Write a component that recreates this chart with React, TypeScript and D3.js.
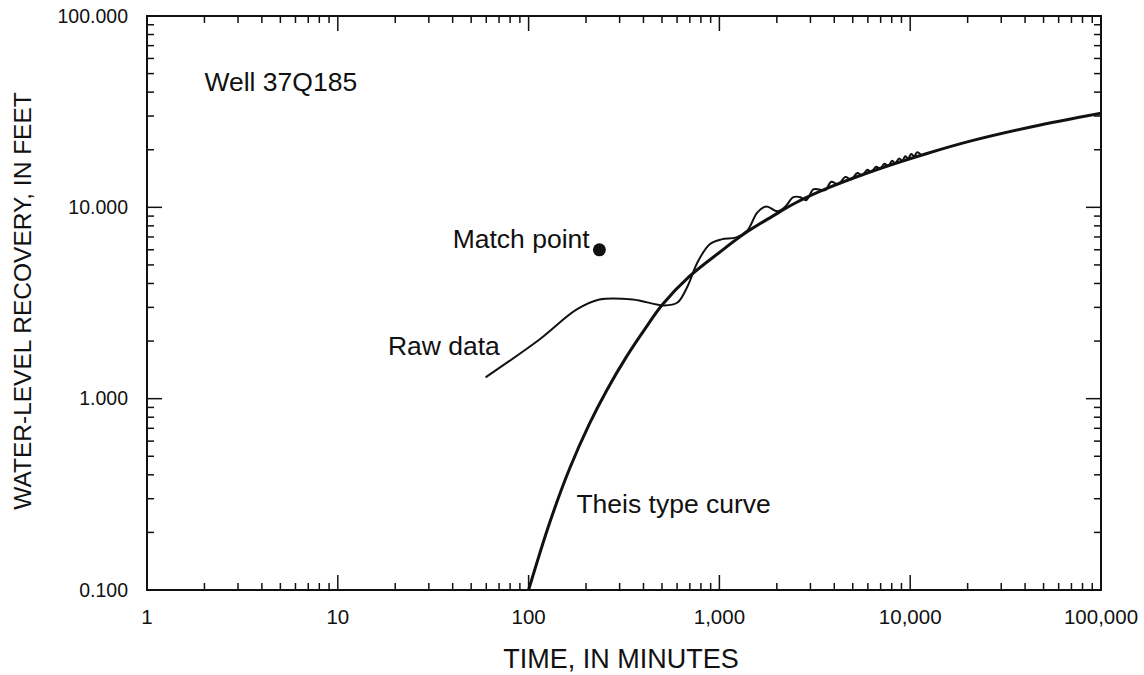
import React from "react";
import * as d3 from "d3";

const theisTime = [100, 128.8, 163.9, 208.6, 256.1, 326, 405, 503, 696, 1000, 1384, 1893, 2530, 3766, 6885, 12130, 20370, 43530, 100000];
const theisRecovery = [0.1, 0.224, 0.43, 0.74, 1.101, 1.659, 2.297, 3.105, 4.352, 5.81, 7.4, 8.97, 10.6, 12.7, 15.91, 19.06, 22.11, 26.39, 31.05];

const rawTime = [60, 114, 178, 235, 351, 515, 603, 680, 767, 887, 1024, 1227, 1402, 1582, 1763, 2013, 2218, 2440, 2655, 2852, 3105, 3340, 3590, 3859, 4198, 4567, 4912, 5279, 5608, 5956, 6250, 6637, 6966, 7311, 7670, 8050, 8346, 8758, 9080, 9418, 9761, 10120, 10490, 10880, 11280];
const rawRecovery = [1.3, 2.04, 2.92, 3.3, 3.3, 3.07, 3.18, 3.86, 5.15, 6.4, 6.8, 6.97, 7.58, 9.41, 10.1, 9.53, 10.1, 11.3, 11.3, 10.9, 12.4, 12.4, 12.3, 13.6, 13.2, 14.4, 14.0, 15.1, 14.7, 15.7, 15.3, 16.3, 15.9, 16.9, 16.5, 17.5, 17.0, 18.0, 17.5, 18.5, 18.0, 19.0, 18.5, 19.4, 19.0];

const matchPoint = { t: 235, s: 6.0 };

const xTickValues = [1, 10, 100, 1000, 10000, 100000];
const xTickLabels = ["1", "10", "100", "1,000", "10,000", "100,000"];
const yTickValues = [0.1, 1, 10, 100];
const yTickLabels = ["0.100", "1.000", "10.000", "100.000"];

const annotations = [
  { text: "Well 37Q185", t: 2.0, s: 40.5 },
  { text: "Match point", t: 40, s: 6.1 },
  { text: "Raw data", t: 18.3, s: 1.7 },
  { text: "Theis type curve", t: 178, s: 0.253 },
];

const W = 1144;
const H = 675;
const FONT = "'Liberation Sans', Arial, Helvetica, sans-serif";

export default function App() {
  const x = d3.scaleLog().domain([1, 100000]).range([147, 1101]);
  const y = d3.scaleLog().domain([0.1, 100]).range([590, 16]);
  const [x0, x1] = x.range();
  const [y0, y1] = y.range();

  const minorX: number[] = [];
  for (let d = 1; d < 100000; d *= 10) for (let k = 2; k <= 9; k++) minorX.push(d * k);
  const minorY: number[] = [];
  for (let d = 0.1; d < 99; d *= 10) for (let k = 2; k <= 9; k++) minorY.push(d * k);

  const line = d3
    .line<[number, number]>()
    .x((d) => x(d[0]))
    .y((d) => y(d[1]))
    .curve(d3.curveCatmullRom.alpha(0.5));

  const theis = line(theisTime.map((t, i) => [t, theisRecovery[i]] as [number, number])) || "";
  const raw = line(rawTime.map((t, i) => [t, rawRecovery[i]] as [number, number])) || "";

  const MAJ = 15;
  const MIN = 7;

  return (
    <svg
      width={W}
      height={H}
      style={{ position: "absolute", left: 0, top: 0, background: "#fff" }}
      fontFamily={FONT}
    >
      <defs>
        <clipPath id="plot">
          <rect x={x0} y={y1} width={x1 - x0} height={y0 - y1} />
        </clipPath>
      </defs>
      <rect x={0} y={0} width={W} height={H} fill="#fff" />

      <rect x={x0} y={y1} width={x1 - x0} height={y0 - y1} fill="none" stroke="#111" strokeWidth={2} />

      <g stroke="#111" strokeWidth={1.5}>
        {xTickValues.map((v) => (
          <g key={"xm" + v}>
            <line x1={x(v)} x2={x(v)} y1={y0} y2={y0 - MAJ} />
            <line x1={x(v)} x2={x(v)} y1={y1} y2={y1 + MAJ} />
          </g>
        ))}
        {minorX.map((v) => (
          <g key={"xn" + v}>
            <line x1={x(v)} x2={x(v)} y1={y0} y2={y0 - MIN} />
            <line x1={x(v)} x2={x(v)} y1={y1} y2={y1 + MIN} />
          </g>
        ))}
        {yTickValues.map((v) => (
          <g key={"ym" + v}>
            <line x1={x0} x2={x0 + MAJ} y1={y(v)} y2={y(v)} />
            <line x1={x1} x2={x1 - MAJ} y1={y(v)} y2={y(v)} />
          </g>
        ))}
        {minorY.map((v) => (
          <g key={"yn" + v}>
            <line x1={x0} x2={x0 + MIN} y1={y(v)} y2={y(v)} />
            <line x1={x1} x2={x1 - MIN} y1={y(v)} y2={y(v)} />
          </g>
        ))}
      </g>

      <g fill="#111">
        {xTickValues.map((v, i) => (
          <text key={"xl" + v} x={x(v)} y={624} textAnchor="middle" fontSize={20.5}>
            {xTickLabels[i]}
          </text>
        ))}
        {yTickValues.map((v, i) => (
          <text key={"yl" + v} x={128} y={y(v)} dy="0.35em" textAnchor="end" fontSize={19.5}>
            {yTickLabels[i]}
          </text>
        ))}
      </g>

      <text x={(x0 + x1) / 2 - 3} y={668} textAnchor="middle" fontSize={27} fill="#111">
        TIME, IN MINUTES
      </text>
      <text
        transform={`translate(31, ${(y0 + y1) / 2 - 2}) rotate(-90)`}
        textAnchor="middle"
        fontSize={24.5}
        fill="#111"
      >
        WATER-LEVEL RECOVERY, IN FEET
      </text>

      <g clipPath="url(#plot)" fill="none" strokeLinejoin="round" strokeLinecap="round">
        <path d={raw} stroke="#111" strokeWidth={2} />
        <path d={theis} stroke="#111" strokeWidth={3} />
      </g>

      <circle cx={x(matchPoint.t)} cy={y(matchPoint.s)} r={6.5} fill="#111" />

      <g fontSize={26.5} fill="#111">
        {annotations.map((a) => (
          <text key={a.text} x={x(a.t)} y={y(a.s)}>
            {a.text}
          </text>
        ))}
      </g>
    </svg>
  );
}
